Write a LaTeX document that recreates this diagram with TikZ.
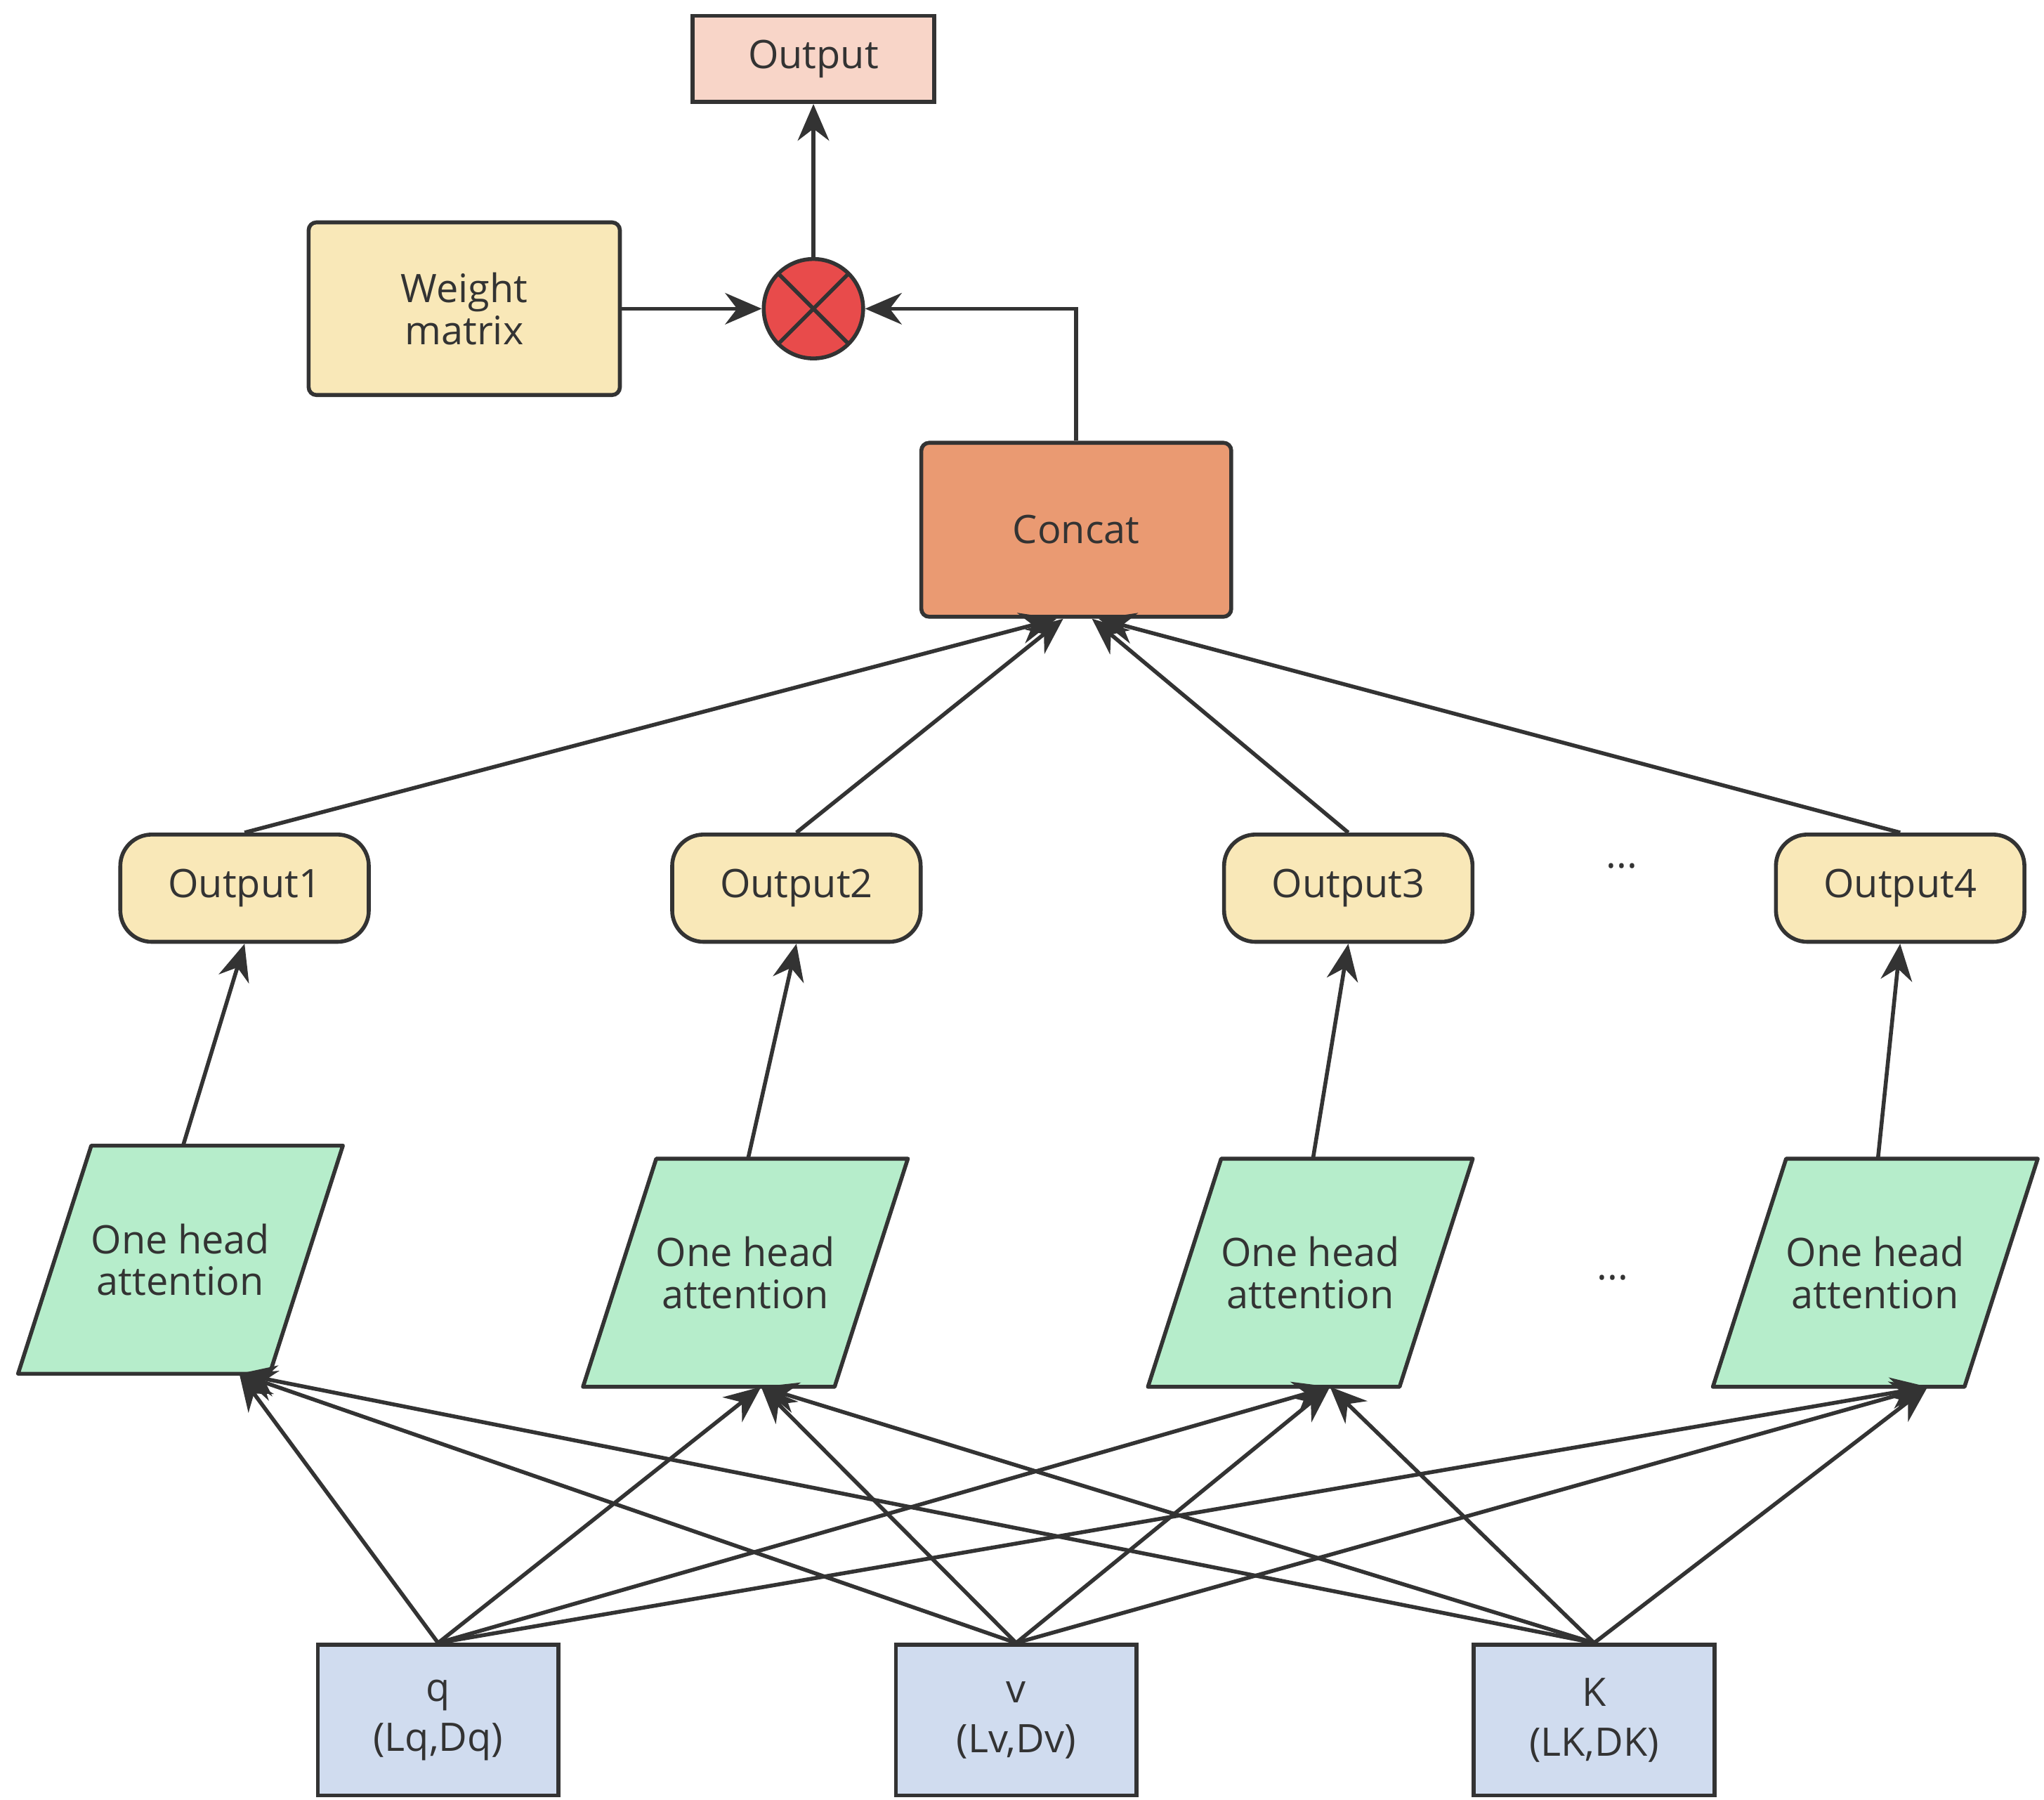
\documentclass[tikz,border=0pt]{standalone}
\usepackage{fontspec}
\setmainfont{Open Sans}
\usetikzlibrary{arrows.meta,calc}
\definecolor{ln}{HTML}{333333}
\definecolor{cOut}{HTML}{F8D5C8}
\definecolor{cYel}{HTML}{F9E8B8}
\definecolor{cRed}{HTML}{E84B4B}
\definecolor{cCon}{HTML}{EA9A72}
\definecolor{cGrn}{HTML}{B6EDCB}
\definecolor{cBlu}{HTML}{D0DCEF}
\begin{document}
\begin{tikzpicture}[x=1pt,y=-1pt,
  every node/.style={font=\fontsize{30}{38}\selectfont, text=ln, align=center},
  box/.style={draw=ln, line width=3pt, minimum width=#1, inner sep=0pt},
  pill/.style={draw=ln, line width=3pt, fill=cYel, rounded corners=24pt, minimum width=190pt, minimum height=82pt},
  para/.style={minimum width=248pt, minimum height=174pt, inner sep=0pt},
  arr/.style={draw=ln, line width=3pt, -{Stealth[length=28pt,width=24pt]}}]
\useasboundingbox (0,0) rectangle (1563,1376);
\node[box=185pt, minimum height=66pt, fill=cOut] (out) at (622,45) {Output};
\node[box=238pt, minimum height=132pt, fill=cYel, rounded corners=6pt] (w) at (355,236) {Weight\\[-6pt]matrix};
\node[circle, draw=ln, line width=3pt, fill=cRed, minimum size=76pt] (m) at (622,236) {};
\draw[ln, line width=3pt] ($(m.center)+(-26,-26)$) -- ($(m.center)+(26,26)$) ($(m.center)+(-26,26)$) -- ($(m.center)+(26,-26)$);
\node[box=237pt, minimum height=133pt, fill=cCon, rounded corners=6pt] (c) at (823,405) {Concat};
\foreach \i/\x in {1/187,2/609,3/1031,4/1453} \node[pill] (o\i) at (\x,679) {Output\i};
\node (d1) at (1240,662) {...};
\node (d2) at (1233,977) {...};
\foreach \i/\x/\y in {1/138/963,2/570/973,3/1002/973,4/1434/973}{
  \node[para] (p\i) at (\x,\y) {};
  \draw[ln, line width=3pt, fill=cGrn, line join=round] ($(p\i.north west)+(56,0)$) -- (p\i.north east) -- ($(p\i.south east)+(-56,0)$) -- (p\i.south west) -- cycle;
  \node at (p\i.center) {One head\\[-6pt]attention};
}
\node[box=184pt, minimum height=115pt, fill=cBlu] (q) at (335,1315) {q\\(Lq,Dq)};
\node[box=184pt, minimum height=115pt, fill=cBlu] (v) at (777,1315) {v\\(Lv,Dv)};
\node[box=184pt, minimum height=115pt, fill=cBlu] (k) at (1219,1315) {K\\(LK,DK)};
% inputs to heads
\foreach \s in {q,v,k}{
  \draw[arr] (\s.north) -- ($(p1.south)+(45,0)$);
  \draw[arr] (\s.north) -- ($(p2.south)+(12,0)$);
  \draw[arr] (\s.north) -- ($(p3.south)+(15,0)$);
  \draw[arr] (\s.north) -- ($(p4.south)+(40,0)$);
}
% heads to outputs
\draw[arr] ($(p1.north)+(2,0)$) -- (o1.south);
\draw[arr] ($(p2.north)+(2,0)$) -- (o2.south);
\draw[arr] ($(p3.north)+(2,0)$) -- (o3.south);
\draw[arr] ($(p4.north)+(2,0)$) -- (o4.south);
% outputs to concat
\draw[arr] (o1.north) -- ($(c.south)+(-15,0)$);
\draw[arr] (o2.north) -- ($(c.south)+(-10,0)$);
\draw[arr] (o3.north) -- ($(c.south)+(12,0)$);
\draw[arr] (o4.north) -- ($(c.south)+(17,0)$);
\draw[arr] (c.north) |- (m.east);
\draw[arr] (w.east) -- (m.west);
\draw[arr] (m.north) -- (out.south);
\end{tikzpicture}
\end{document}
